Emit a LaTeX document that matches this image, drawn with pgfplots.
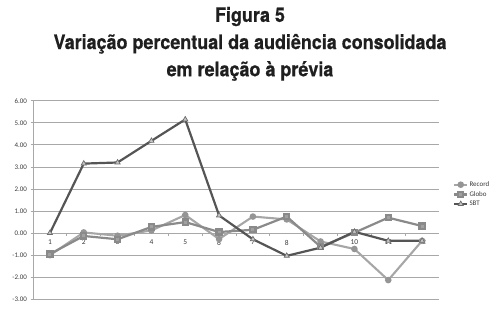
\documentclass[border=0pt]{standalone}
\usepackage{pgfplots}
\pgfplotsset{compat=1.18}
\usepackage{fontspec}
\setmainfont{Carlito}
\newfontfamily\titlefont[FakeStretch=0.9, FakeBold=0.6]{TeX Gyre Heros}
\definecolor{recordc}{HTML}{A6A6A6}
\definecolor{globoc}{HTML}{8A8A8A}
\definecolor{sbtc}{HTML}{555555}
\definecolor{gridc}{HTML}{A8A8A8}
\definecolor{textc}{HTML}{3A3A3A}
\begin{document}
\begin{tikzpicture}
\useasboundingbox (-33bp,-10.7bp) rectangle (459bp,299.3bp);
\begin{axis}[
  scale only axis,
  width=406bp, height=198.6bp,
  xmin=0.5, xmax=12.5,
  ymin=-3, ymax=6,
  axis x line=middle,
  axis y line=left,
  axis line style={-, draw=gridc, line width=0.8pt},
  hide obscured x ticks=false,
  hide obscured y ticks=false,
  xtick={1,...,12},
  minor xtick={1.5,2.5,...,11.5},
  major x tick style={draw=none},
  minor x tick style={draw=gridc, line width=0.8pt},
  minor tick length=3bp,
  ytick={-3,-2,...,6},
  y tick style={draw=gridc, line width=0.8pt},
  major tick length=2.5bp,
  tick align=outside,
  ymajorgrids,
  grid style={draw=gridc, line width=0.8pt},
  yticklabel style={font=\fontsize{7}{8}\selectfont, text=textc, /pgf/number format/fixed, /pgf/number format/fixed zerofill, /pgf/number format/precision=2},
  xticklabel style={font=\fontsize{7.5}{8}\selectfont, text=textc, yshift=-1bp},
  /pgf/number format/assume math mode=true,
  clip=false,
  legend style={at={(1.027,0.61)}, anchor=north west, draw=none, fill=none,
    font=\fontsize{7}{8}\selectfont, text=textc, row sep=1bp,
    nodes={inner sep=1.2bp}},
  legend cell align=left,
  legend image code/.code={\draw[mark repeat=2,mark phase=2,#1] plot coordinates {(0bp,0bp) (6.5bp,0bp) (13bp,0bp)};},
]
\addplot[color=recordc, line width=2.1pt, mark=*, mark size=2.2pt, mark options={fill=recordc!90!black, draw=recordc!90!black}] coordinates {
(1,-1.00) (2,0.03) (3,-0.12) (4,0.12) (5,0.82) (6,-0.27) (7,0.75) (8,0.62) (9,-0.38) (10,-0.72) (11,-2.13) (12,-0.35)};
\addlegendentry{Record}
\addplot[color=globoc, line width=2.2pt, mark=square*, mark size=2.6pt, mark options={fill=globoc!80!white, draw=globoc}] coordinates {
(1,-0.95) (2,-0.13) (3,-0.28) (4,0.28) (5,0.50) (6,0.05) (7,0.15) (8,0.75) (9,-0.62) (10,0.02) (11,0.70) (12,0.32)};
\addlegendentry{Globo}
\addplot[color=sbtc, line width=2.2pt, mark=triangle*, mark size=3pt, mark options={fill=gray!45, draw=gray!85!black, line width=0.7pt}] coordinates {
(1,0.00) (2,3.15) (3,3.20) (4,4.18) (5,5.15) (6,0.80) (7,-0.28) (8,-1.03) (9,-0.66) (10,0.06) (11,-0.35) (12,-0.35)};
\addlegendentry{SBT}
\end{axis}
\node[anchor=north, inner sep=0pt, align=center, font=\titlefont\bfseries\fontsize{20}{27.3}\selectfont, text={black!88}] at (217bp,292.5bp) {Figura 5\\Variação percentual da audiência consolidada\\em relação à prévia};
\end{tikzpicture}
\end{document}
